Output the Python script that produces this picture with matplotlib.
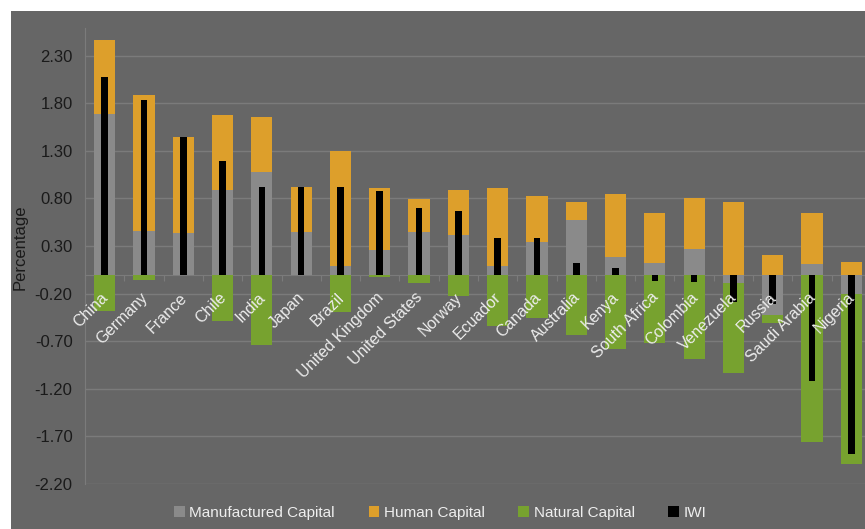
import numpy as np
import matplotlib
matplotlib.use("Agg")
from matplotlib import pyplot as plt
from matplotlib.patches import Rectangle
from matplotlib.transforms import offset_copy

plt.rcParams['font.family'] = ['Liberation Sans', 'DejaVu Sans']

countries = ["China", "Germany", "France", "Chile", "India", "Japan", "Brazil",
             "United Kingdom", "United States", "Norway", "Ecuador", "Canada",
             "Australia", "Kenya", "South Africa", "Colombia", "Venezuela",
             "Russia", "Saudi Arabia", "Nigeria"]
manufactured = [1.69, 0.46, 0.44, 0.89, 1.08, 0.45, 0.09, 0.26, 0.45, 0.42,
                0.09, 0.34, 0.57, 0.18, 0.12, 0.27, -0.09, -0.42, 0.11, -0.20]
human = [0.77, 1.43, 1.00, 0.79, 0.57, 0.47, 1.21, 0.65, 0.34, 0.47,
         0.82, 0.49, 0.19, 0.67, 0.53, 0.53, 0.76, 0.21, 0.54, 0.13]
natural = [-0.38, -0.06, 0.0, -0.49, -0.74, 0.0, -0.39, -0.03, -0.09, -0.22,
           -0.54, -0.46, -0.64, -0.78, -0.72, -0.89, -0.94, -0.09, -1.76, -1.79]
iwi = [2.08, 1.83, 1.44, 1.19, 0.92, 0.92, 0.92, 0.88, 0.70, 0.67,
       0.38, 0.38, 0.12, 0.07, -0.07, -0.08, -0.29, -0.31, -1.12, -1.88]
yticks = [-2.20, -1.70, -1.20, -0.70, -0.20, 0.30, 0.80, 1.30, 1.80, 2.30]

bg = "#666666"
grid_c = "#7b7b7b"
c_man = "#8a8a8a"
c_hum = "#dd9f2b"
c_nat = "#77a22f"

fig = plt.figure(figsize=(8.65, 5.29), dpi=100, facecolor="white")
fig.patches.append(Rectangle((11 / 865, 0), 1, 1 - 11 / 529, transform=fig.transFigure,
                             facecolor=bg, edgecolor="none", zorder=-10))
ax = fig.add_axes([85 / 865, 1 - 484 / 529, (20 * 39.3) / 865, (484 - 28) / 529])
ax.set_facecolor(bg)

x = np.arange(len(countries))
pos = np.zeros(len(x))
neg = np.zeros(len(x))
for vals, col, lab in [(manufactured, c_man, "Manufactured Capital"),
                       (human, c_hum, "Human Capital"),
                       (natural, c_nat, "Natural Capital")]:
    v = np.array(vals)
    bottom = np.where(v >= 0, pos, neg)
    ax.bar(x, v, 0.54, bottom=bottom, color=col, label=lab, zorder=2)
    pos = np.where(v >= 0, pos + v, pos)
    neg = np.where(v < 0, neg + v, neg)
ax.bar(x, iwi, 0.17, color="black", label="IWI", zorder=3)

ax.set_xlim(-0.5, 19.5)
ax.set_ylim(-2.2, 2.59)
ax.set_yticks(yticks)
ax.set_yticklabels(["%.2f" % t for t in yticks])
ax.yaxis.grid(True, color=grid_c, lw=1)
ax.set_axisbelow(True)
ax.tick_params(axis="y", length=0, labelsize=12, labelcolor="#1a1a1a", pad=9)

for s in ["top", "right"]:
    ax.spines[s].set_visible(False)
ax.spines["left"].set_color(grid_c)
ax.spines["bottom"].set_position(("data", 0))
ax.spines["bottom"].set_color(grid_c)
ax.spines["bottom"].set_zorder(1)
ax.set_xticks(np.arange(-0.5, 20, 1))
ax.set_xticklabels([])
ax.tick_params(axis="x", length=4, color=grid_c, direction="out")

tr = offset_copy(ax.transData, fig=fig, x=0, y=-11, units="points")
for i, name in enumerate(countries):
    ax.text(i - 0.1, 0, name, transform=tr, rotation=45, rotation_mode="anchor",
            ha="right", va="top", fontsize=11.5, color="#ececec", zorder=5)

ax.set_ylabel("Percentage", fontsize=12, color="#1a1a1a")
ax.yaxis.set_label_coords(-0.073, 0.52)

leg = fig.legend(loc="center", bbox_to_anchor=(0.509, 1 - 513 / 529), ncol=4, frameon=False,
                 handlelength=0.7, handleheight=0.7, handletextpad=0.3, columnspacing=2.2,
                 fontsize=11)
for t in leg.get_texts():
    t.set_color("#eeeeee")

fig.savefig("out.png", dpi=100, facecolor=fig.get_facecolor())
